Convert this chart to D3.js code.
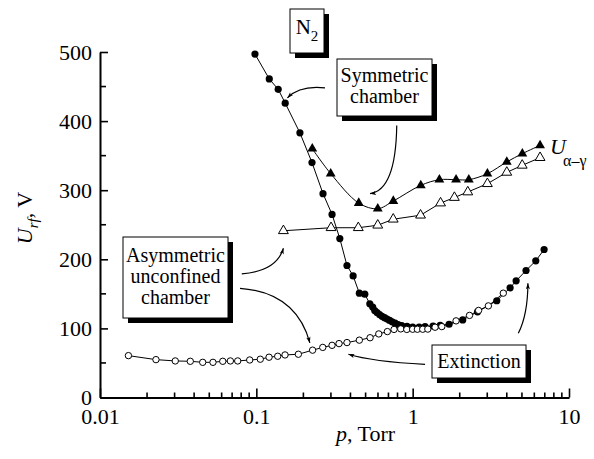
<!DOCTYPE html>
<html>
<head>
<meta charset="utf-8" />
<title>N2 extinction and alpha-gamma voltages</title>
<style>
html, body {
  margin: 0;
  background: #fff;
}
svg text {
  font-family: "Liberation Serif", "Times New Roman", serif;
  fill: #000;
}
</style>
</head>
<body>
<script src="https://d3js.org/d3.v7.min.js"></script>
<script>

// ---------------------------------------------------------
// Data (p in Torr, U in V)

// symmetric chamber, extinction (filled circles)
const symExtP = [0.098, 0.121, 0.138, 0.153, 0.19, 0.227, 0.267, 0.305, 0.342, 0.38,
  0.416, 0.456, 0.494, 0.532, 0.555, 0.572, 0.592, 0.614, 0.637, 0.661, 0.686, 0.712,
  0.739, 0.772, 0.807, 0.851, 0.92, 1.0, 1.1, 1.2, 1.35, 1.5, 1.71, 2.09, 2.6, 3.45,
  4.2, 4.59, 5.31, 6.13, 6.93]
const symExtU = [497, 461, 446, 426, 383, 340, 295, 265, 230, 191,
  176, 151, 149.6, 135.5, 131, 125.8, 123, 120, 117.5, 115.5, 113.5, 111.5,
  109.5, 107.5, 105.5, 104, 103, 102, 102, 102.5, 103.5, 104.5, 106, 112.3, 124, 140,
  158.7, 168.8, 183.8, 197.8, 214.2]

// asymmetric unconfined chamber, extinction (open circles)
const asymExtP = [0.0152, 0.0228, 0.0303, 0.0378, 0.0454, 0.0528, 0.061, 0.0682, 0.076,
  0.0907, 0.106, 0.1206, 0.137, 0.1526, 0.1857, 0.229, 0.266, 0.305, 0.338, 0.38, 0.456,
  0.534, 0.607, 0.689, 0.76, 0.839, 0.917, 1.0, 1.072, 1.16, 1.25, 1.391, 1.536, 1.895,
  2.31, 2.64, 3.05, 3.8]
const asymExtU = [60.6, 54.8, 52.9, 52.4, 50.9, 50.9, 52.4, 52.9, 52.9,
  54.3, 55.4, 58.3, 59.7, 61.6, 62.6, 68.5, 72.5, 75.5, 78, 79.5, 83,
  86.5, 92, 95.4, 98.5, 99.3, 98.5, 98.8, 98.8, 98.8, 99, 101.7, 102.6, 110.9,
  118.8, 126, 132.6, 151]

// symmetric chamber, U alpha-gamma (filled triangles)
const symAgP = [0.228, 0.299, 0.452, 0.598, 0.752, 1.127, 1.482, 1.895, 2.286, 3.006, 4.0, 5.03, 6.53]
const symAgU = [360, 324, 281.4, 273.2, 284.3, 307, 315.2, 315.2, 315.2, 323.9, 340.9, 352.9, 364.9]

// asymmetric chamber, U alpha-gamma (open triangles)
const asymAgP = [0.149, 0.3006, 0.449, 0.598, 0.751, 1.123, 1.508, 1.849, 2.252, 3.006, 4.0, 5.02, 6.53]
const asymAgU = [241.3, 245.7, 245.7, 249.3, 258, 263.8, 281.4, 289.4, 297.4, 309.4, 325.8, 336, 347.1]

// axis ticks
const xMajor = [0.01, 0.1, 1, 10]
const xTickLabels = ['0.01', '0.1', '1', '10']
const yMajor = [0, 100, 200, 300, 400, 500]
const yMinor = [50, 150, 250, 350, 450]

// arrows: [start p, start U, control p, control U, end p, end U]
const arrows = [
  [0.275, 448, 0.19, 452, 0.158, 433.6],
  [0.791, 393.5, 0.78, 300, 0.534, 295],
  [0.0807, 179, 0.135, 183, 0.149, 216],
  [0.0786, 158, 0.18, 152, 0.22, 79],
  [1.2, 48, 0.55, 52, 0.388, 62.6],
  [4.74, 93, 5.45, 120, 5.46, 165.5]
]

// ---------------------------------------------------------

const W = 594, H = 459

const svg = d3.select('body').append('svg')
  .attr('width', W)
  .attr('height', H)

const x = d3.scaleLog().domain([0.01, 10]).range([100, 569])
const y = d3.scaleLinear().domain([0, 500]).range([397.5, 52])

const xMinor = []
xMajor.slice(0, -1).forEach(d => {
  for (let k = 2; k <= 9; k++) xMinor.push(d * k)
})

// axes
const yAxis = svg.append('g')
  .attr('transform', `translate(${x.range()[0]},0)`)
  .call(d3.axisLeft(y).tickValues(yMajor).tickSizeInner(-8).tickSizeOuter(0).tickPadding(8))
yAxis.selectAll('text').style('font-size', '22px').style('font-family', 'Liberation Serif')

const xAxis = svg.append('g')
  .attr('transform', `translate(0,${y(0)})`)
  .call(d3.axisBottom(x).tickValues(xMajor).tickFormat((d, i) => xTickLabels[i])
    .tickSizeInner(-9).tickSizeOuter(0).tickPadding(11))
xAxis.selectAll('text').style('font-size', '22px').style('font-family', 'Liberation Serif')

svg.selectAll('.domain').attr('stroke-width', 2).attr('stroke', '#000')
svg.selectAll('.tick line').attr('stroke-width', 1.6).attr('stroke', '#000')

svg.append('g').selectAll('line')
  .data(yMinor)
  .enter().append('line')
  .attr('x1', x.range()[0]).attr('x2', x.range()[0] + 6)
  .attr('y1', d => y(d)).attr('y2', d => y(d))
  .attr('stroke', '#000').attr('stroke-width', 1.6)

svg.append('g').selectAll('line')
  .data(xMinor)
  .enter().append('line')
  .attr('x1', d => x(d)).attr('x2', d => x(d))
  .attr('y1', y(0)).attr('y2', y(0) - 5)
  .attr('stroke', '#000').attr('stroke-width', 1.6)

// axis titles
const yTitle = svg.append('text')
  .attr('transform', 'translate(32,218) rotate(-90)')
  .attr('text-anchor', 'middle')
  .style('font-size', '22px')
yTitle.append('tspan').style('font-style', 'italic').text('U')
yTitle.append('tspan').style('font-style', 'italic').style('font-size', '15px')
  .attr('dy', 6).text('rf')
yTitle.append('tspan').attr('dy', -6).text(', V')

const xTitle = svg.append('text')
  .attr('x', 336).attr('y', 441)
  .style('font-size', '22px')
xTitle.append('tspan').style('font-style', 'italic').text('p')
xTitle.append('tspan').text(', Torr')

// ---------------------------------------------------------
// series

function zip(ps, us) { return ps.map((p, i) => ({ p: p, u: us[i] })) }

const symExt = zip(symExtP, symExtU)
const asymExt = zip(asymExtP, asymExtU)
const symAg = zip(symAgP, symAgU)
const asymAg = zip(asymAgP, asymAgU)

const line = d3.line().x(d => x(d.p)).y(d => y(d.u))
const smooth = d3.line().x(d => x(d.p)).y(d => y(d.u)).curve(d3.curveCatmullRom.alpha(0.5))

const lines = svg.append('g').attr('fill', 'none').attr('stroke', '#000').attr('stroke-width', 1)
lines.append('path').attr('d', line(asymAg))
lines.append('path').attr('d', smooth(symAg))
lines.append('path').attr('d', line(asymExt))
lines.append('path').attr('d', line(symExt))

const tri = d3.symbol().type(d3.symbolTriangle).size(42)

svg.append('g').selectAll('path')
  .data(asymAg)
  .enter().append('path')
  .attr('transform', d => `translate(${x(d.p)},${y(d.u)})`)
  .attr('d', tri)
  .attr('fill', '#fff').attr('stroke', '#000').attr('stroke-width', 1)

svg.append('g').selectAll('path')
  .data(symAg)
  .enter().append('path')
  .attr('transform', d => `translate(${x(d.p)},${y(d.u)})`)
  .attr('d', tri)
  .attr('fill', '#000')

svg.append('g').selectAll('circle')
  .data(symExt)
  .enter().append('circle')
  .attr('cx', d => x(d.p)).attr('cy', d => y(d.u))
  .attr('r', 3.6)
  .attr('fill', '#000')

svg.append('g').selectAll('circle')
  .data(asymExt)
  .enter().append('circle')
  .attr('cx', d => x(d.p)).attr('cy', d => y(d.u))
  .attr('r', 3.2)
  .attr('fill', '#fff').attr('stroke', '#000').attr('stroke-width', 1)

svg.append('text')
  .attr('x', 550).attr('y', 154)
  .style('font-size', '22px').style('font-style', 'italic')
  .text('U')
svg.append('text')
  .attr('x', 563).attr('y', 166)
  .style('font-size', '16px')
  .text('α–γ')

// ---------------------------------------------------------
// annotation arrows

svg.append('defs').append('marker')
  .attr('id', 'head')
  .attr('viewBox', '0 0 10 10')
  .attr('refX', 10).attr('refY', 5)
  .attr('markerUnits', 'userSpaceOnUse')
  .attr('markerWidth', 8).attr('markerHeight', 6)
  .attr('orient', 'auto')
  .append('path')
  .attr('d', 'M0,1.5 L10,5 L0,8.5 L2.5,5 Z')
  .attr('fill', '#000')

svg.append('g').selectAll('path')
  .data(arrows)
  .enter().append('path')
  .attr('d', a => `M${x(a[0])},${y(a[1])} Q${x(a[2])},${y(a[3])} ${x(a[4])},${y(a[5])}`)
  .attr('fill', 'none').attr('stroke', '#000').attr('stroke-width', 1.2)
  .attr('marker-end', 'url(#head)')

// ---------------------------------------------------------
// labelled boxes with drop shadow

function box(bx, by, bw, bh, lines, baselines, size) {
  const g = svg.append('g')
  g.append('rect').attr('x', bx + 5).attr('y', by + 5).attr('width', bw).attr('height', bh).attr('fill', '#000')
  g.append('rect').attr('x', bx).attr('y', by).attr('width', bw).attr('height', bh)
    .attr('fill', '#fff').attr('stroke', '#000').attr('stroke-width', 1)
  return lines.map((t, i) => g.append('text')
    .attr('x', bx + bw / 2).attr('y', baselines[i])
    .attr('text-anchor', 'middle')
    .style('font-size', size + 'px')
    .text(t))
}

const n2 = box(290, 9, 34, 44, [''], [34], 21)[0]
n2.append('tspan').text('N')
n2.append('tspan').attr('dy', 7).style('font-size', '15px').text('2')

box(337, 59, 95, 57, ['Symmetric', 'chamber'], [82, 103], 20)
box(123, 237, 105, 81, ['Asymmetric', 'unconfined', 'chamber'], [262, 283, 303.5], 20)
box(432, 345, 94, 33, ['Extinction'], [368], 20)

</script>
</body>
</html>
